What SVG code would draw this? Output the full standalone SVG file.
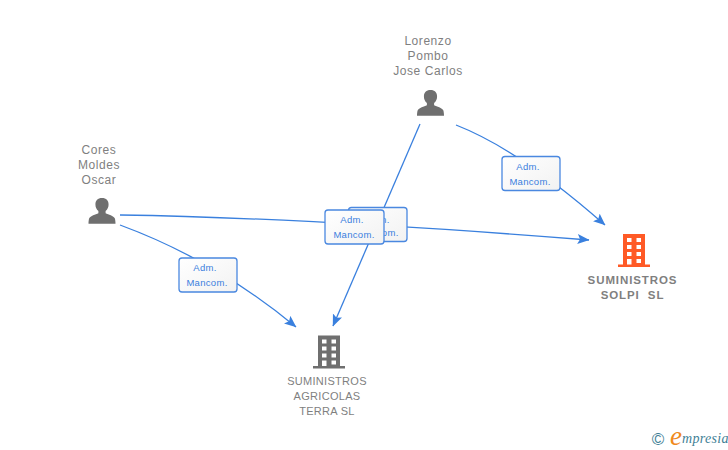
<svg xmlns="http://www.w3.org/2000/svg" width="728" height="450" viewBox="0 0 728 450">
<defs>
<linearGradient id="bg" x1="0" y1="0" x2="1" y2="1"><stop offset="0" stop-color="#ffffff"/><stop offset="1" stop-color="#f2f2f2"/></linearGradient>
<marker id="arr" viewBox="0 0 12 10" refX="11.500" refY="5" markerWidth="12" markerHeight="11" markerUnits="userSpaceOnUse" orient="auto"><path d="M0 0L12 5L0 10L2.500 5Z" fill="#3a80de"/></marker>
<g id="person"><path transform="scale(.9)" d="M0-15.500c-4.800 0-7.300 3-7.300 7.200 0 3 1 5.300 3.300 7.300v2.300c-3 1.600-9 2.800-10.200 5.600-.5 1.400-.8 3.800-.8 6.100h30c0-2.300-.3-4.700-.8-6.100-1.200-2.800-7.200-4-10.200-5.600V-1c2.300-2 3.300-4.300 3.300-7.300 0-4.200-2.500-7.200-7.300-7.200z"/></g>
<g id="building"><path fill-rule="evenodd" d="M-11-17H11V13.500H16V16H-16V13.500H-11ZM-7-13V-9H-2.500V-13ZM2.500-13V-9H7V-13ZM-7-6V-2H-2.500V-6ZM2.500-6V-2H7V-6ZM-7 1V5H-2.500V1ZM2.500 1V5H7V1ZM-7 8V13.500H-2.500V8ZM2.500 8V12H7V8Z"/></g>
</defs>
<style>
.lbl{font-family:"Liberation Sans",Arial,sans-serif;font-size:12px;fill:#7f7f7f;text-anchor:middle;letter-spacing:.55px}
.co{font-weight:700;font-size:11.500px;letter-spacing:.9px}
.ter{font-size:11px;letter-spacing:.3px}
.edge{fill:none;stroke:#3a80de;stroke-width:1.300}
.box{fill:url(#bg);stroke:#4a88e0;stroke-width:1.300}
.bt{font-family:"Liberation Sans",Arial,sans-serif;font-size:9.500px;fill:#3a80de;text-anchor:middle;letter-spacing:.3px}
</style>
<rect width="728" height="450" fill="#ffffff"/>
<g id="connectors">
<path class="edge" d="M456 125Q520 150 605 225" marker-end="url(#arr)"/>
<path class="edge" d="M120 215C250 217 400 225 589 240" marker-end="url(#arr)"/>
<path class="edge" d="M120 225Q215 260 296 327" marker-end="url(#arr)"/>
<path class="edge" d="M420 124L333 326" marker-end="url(#arr)"/>
</g>
<g id="label-lorenzo-terra"><rect class="box" x="348.500" y="207.500" width="58.500" height="34" rx="3"/><text class="bt" x="378" y="223">Adm.</text><text class="bt" x="378" y="236">Mancom.</text></g>
<g id="label-cores-solpi"><rect class="box" x="325" y="210" width="59" height="34" rx="3"/><text class="bt" x="352" y="223">Adm.</text><text class="bt" x="354" y="238">Mancom.</text></g>
<g id="label-lorenzo-solpi"><rect class="box" x="502" y="156.500" width="58" height="34" rx="3"/><text class="bt" x="528" y="170">Adm.</text><text class="bt" x="530" y="185">Mancom.</text></g>
<g id="label-cores-terra"><rect class="box" x="179" y="258" width="58" height="34" rx="3"/><text class="bt" x="205" y="271">Adm.</text><text class="bt" x="207" y="286">Mancom.</text></g>
<g id="node-lorenzo"><use href="#person" x="430.500" y="104" fill="#6f6f6f"/><text class="lbl" x="428" y="45">Lorenzo</text><text class="lbl" x="428" y="60">Pombo</text><text class="lbl" x="428" y="75">Jose Carlos</text></g>
<g id="node-cores"><use href="#person" x="102" y="212" fill="#6f6f6f"/><text class="lbl" x="99" y="154">Cores</text><text class="lbl" x="99" y="169">Moldes</text><text class="lbl" x="99" y="184">Oscar</text></g>
<g id="node-solpi"><use href="#building" x="634" y="251" fill="#ff5a26"/><text class="lbl co" x="632.500" y="284">SUMINISTROS</text><text class="lbl co" x="632.500" y="299" xml:space="preserve">SOLPI  SL</text></g>
<g id="node-terra"><use href="#building" x="329" y="352.500" fill="#6f6f6f"/><text class="lbl ter" x="327" y="385">SUMINISTROS</text><text class="lbl ter" x="327" y="400">AGRICOLAS</text><text class="lbl ter" x="327" y="415">TERRA SL</text></g>
<g id="brand"><text x="658" y="445" font-family="'Liberation Sans',sans-serif" font-size="17" fill="#3f7f96" text-anchor="middle">©</text><text x="670" y="445" font-family="'Liberation Serif',serif" font-style="italic" font-size="27" fill="#f08a1d">e</text><text x="682" y="443" font-family="'Liberation Serif',serif" font-style="italic" font-size="14" fill="#3f7f96" letter-spacing=".3">mpresia</text></g>
</svg>
